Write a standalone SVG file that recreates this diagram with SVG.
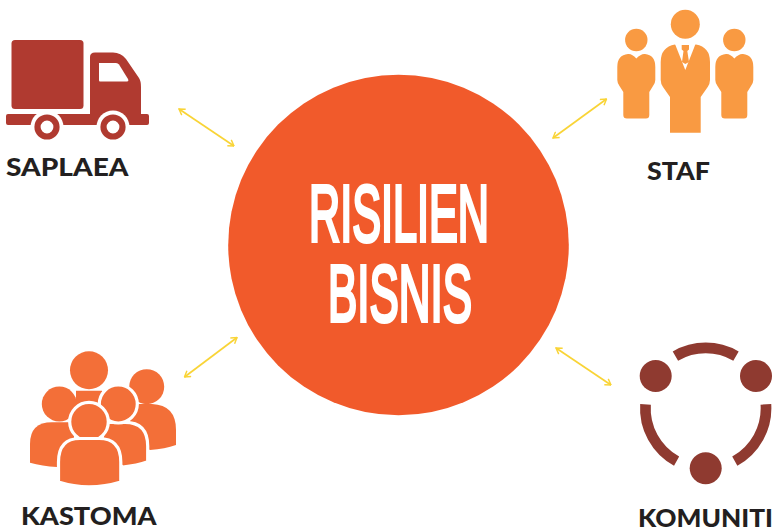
<svg xmlns="http://www.w3.org/2000/svg" width="774" height="530" viewBox="0 0 774 530">
<style>
.lbl{font-family:"Lato","Liberation Sans",sans-serif;font-weight:900;font-size:25.500px;fill:#231f20}
.ttl{font-family:"Liberation Sans",sans-serif;font-weight:400;font-size:80px;fill:#fff;stroke:#fff;stroke-width:3.800px}
.arr{fill:none;stroke:#f9d436;stroke-width:1.7;marker-start:url(#h);marker-end:url(#h)}
.t{fill:#b03a30}.s{fill:#f99a42}.c{fill:#f36f38}.cw{fill:#f36f38;stroke:#fff;stroke-width:3.2}.k{fill:#8f3a30}
.ka{fill:none;stroke:#8f3a30;stroke-width:10.7}
</style>
<defs>
<marker id="h" viewBox="0 0 12 12" refX="11" refY="6" markerWidth="8.5" markerHeight="8.5" markerUnits="userSpaceOnUse" orient="auto-start-reverse"><path d="M3,1 L11,6 L3,11" fill="none" stroke="#f9d436" stroke-width="2"/></marker>
</defs>
<rect width="774" height="530" fill="#fff"/>
<g id="connectors">
<path class="arr" d="M179,109 L234,146"/>
<path class="arr" d="M606.500,99 L553,138"/>
<path class="arr" d="M237,337.500 L184.500,377"/>
<path class="arr" d="M556,348 L611,385"/>
</g>
<g id="centre">
<circle cx="398.500" cy="245" r="170.300" fill="#f15a2b"/>
<text class="ttl" x="309" y="241" textLength="180" lengthAdjust="spacingAndGlyphs">RISILIEN</text>
<text class="ttl" x="328" y="321" textLength="144" lengthAdjust="spacingAndGlyphs">BISNIS</text>
</g>
<g id="saplaea">
<rect class="t" x="11.500" y="40" width="72" height="69" rx="3.500"/>
<path class="t" d="M90,114 V57 Q90,52.500 95,52.500 H113 Q121,52.500 126,59 L139,78 Q141,81 141,87 V114 H147 Q149,114 149,116 V123 Q149,125 147,125 H8 Q6,125 6,123 V116 Q6,114 8,114 Z"/>
<path d="M99,63 H116 Q118,63 119,64.500 L128,79 Q129,81.500 127,81.500 H100 Q99,81.500 99,80 Z" fill="#fff"/>
<circle cx="47" cy="127" r="16.500" fill="#fff"/><circle cx="113" cy="127" r="16.500" fill="#fff"/>
<circle cx="47" cy="127" r="9.500" fill="#fff" stroke="#b03a30" stroke-width="6.200"/>
<circle cx="113" cy="127" r="9.500" fill="#fff" stroke="#b03a30" stroke-width="6.200"/>
<text class="lbl" x="6" y="176" textLength="122.500" lengthAdjust="spacingAndGlyphs">SAPLAEA</text>
</g>
<g id="staf">
<circle class="s" cx="685.300" cy="24.300" r="14.500"/>
<circle class="s" cx="636.300" cy="40" r="11.200"/>
<circle class="s" cx="734.300" cy="40" r="11.200"/>
<path class="s" d="M628,54 Q632,53.500 636.300,58.500 Q641,53.500 645,54 Q655.300,55 655.300,67 V80 Q655.300,83 653,86 L649.300,92 V115 Q649.300,118.500 646,118.500 H627 Q623.300,118.500 623.300,115 V92 L619.500,86 Q617.300,83 617.300,80 V67 Q617.300,55 628,54 Z"/>
<path class="s" d="M726,54 Q730,53.500 734.300,58.500 Q739,53.500 743,54 Q753.300,55 753.300,67 V80 Q753.300,83 751,86 L747.300,92 V115 Q747.300,118.500 744,118.500 H725 Q721.300,118.500 721.300,115 V92 L717.500,86 Q715.300,83 715.300,80 V67 Q715.300,55 726,54 Z"/>
<path class="s" d="M675,44.500 Q660.700,47 660.700,62 V80 Q660.700,83.500 663,87 L670,97 V132.700 H700.700 V97 L707.700,87 Q710,83.500 710,80 V62 Q710,47 696,44.500 Z"/>
<path d="M675,44 L685.300,70 L695.500,44 Z" fill="#fff"/>
<path class="s" d="M681.700,45 H689 V49.500 L687.300,51 L689,62 L685.300,64 L682,62 L683.500,51 L681.700,49.500 Z"/>
<text class="lbl" x="647" y="180" textLength="63" lengthAdjust="spacingAndGlyphs">STAF</text>
</g>
<g id="kastoma">
<circle class="c" cx="89" cy="370.300" r="19"/>
<path class="c" d="M76,390.700 H102 L106,410 H76 Z"/>
<circle class="c" cx="146.700" cy="386.700" r="17.500"/>
<path class="c" d="M130,404 H152 Q176,405 176,430 V445 Q165,449 150,450 L130,440 Z"/>
<path class="c" d="M105,422.300 H125 Q147.700,422.300 147.700,446 V461.700 Q137,465.500 122.700,467 L100,450 Z" stroke="#fff" stroke-width="3.200"/>
<path class="c" d="M30,462.700 V444 Q30,422.300 52,422.300 H74 V440 L57,467 Q42,466 30,462.700 Z"/>
<circle class="c" cx="59.300" cy="404" r="17.500"/>
<circle class="cw" cx="118.300" cy="404" r="19"/>
<circle class="cw" cx="89" cy="421.700" r="19.300"/>
<path class="cw" d="M58.500,482 V462 Q58.500,438.500 80,438.500 H99 Q120.800,438.500 120.800,462 V482 Q105,486.800 89,486.800 Q74,486.800 58.500,482 Z"/>
<text class="lbl" x="21" y="525" textLength="135.500" lengthAdjust="spacingAndGlyphs">KASTOMA</text>
</g>
<g id="komuniti">
<circle class="k" cx="655.700" cy="376" r="16"/>
<circle class="k" cx="756" cy="376" r="16"/>
<circle class="k" cx="705.700" cy="468.300" r="16"/>
<path class="ka" d="M675.400,356.100 A60.300,60.300 0 0 1 736,356.100"/>
<path class="ka" d="M645.500,404.300 A60.300,60.300 0 0 0 676.600,461.100"/>
<path class="ka" d="M765.900,404.300 A60.300,60.300 0 0 1 734.800,461.100"/>
<text class="lbl" x="638" y="527" textLength="135" lengthAdjust="spacingAndGlyphs">KOMUNITI</text>
</g>
</svg>
